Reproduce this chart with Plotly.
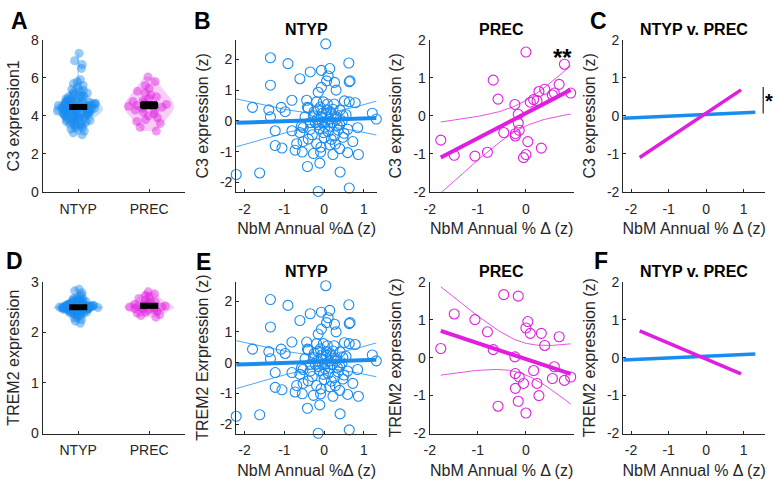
import numpy as np
import plotly.graph_objects as go

# ---------------- data ----------------
groups = ["NTYP", "PREC"]

ntyp_c3_raw = [3.0, 3.1, 3.2, 3.3, 3.35, 3.4, 3.45, 3.5, 3.5, 3.55, 3.6, 3.6, 3.65, 3.7, 3.7, 3.75, 3.8, 3.8,
               3.85, 3.9, 3.9, 3.95, 4.0, 4.0, 4.0, 4.05, 4.1, 4.1, 4.1, 4.15, 4.15, 4.2, 4.2, 4.2, 4.25, 4.25,
               4.3, 4.3, 4.3, 4.3, 4.35, 4.35, 4.4, 4.4, 4.4, 4.4, 4.45, 4.45, 4.5, 4.5, 4.5, 4.5, 4.55, 4.55,
               4.6, 4.6, 4.6, 4.6, 4.65, 4.65, 4.7, 4.7, 4.7, 4.75, 4.75, 4.8, 4.8, 4.85, 4.9, 4.9, 4.95, 5.0,
               5.0, 5.05, 5.1, 5.1, 5.15, 5.2, 5.25, 5.3, 5.35, 5.4, 5.5, 5.6, 5.7, 5.8, 5.9, 6.5, 6.7, 6.9, 7.3,
               3.85, 4.05, 4.15, 4.35, 4.45, 4.55, 4.25, 3.95, 4.65, 4.75, 3.75, 4.0, 4.2, 4.5, 4.3, 4.4]
prec_c3_raw = [3.2, 3.4, 3.6, 3.7, 3.8, 3.9, 4.0, 4.1, 4.2, 4.3, 4.3, 4.4, 4.45, 4.5, 4.55, 4.6, 4.7, 4.75,
               4.8, 4.9, 5.0, 5.1, 5.2, 5.3, 5.45, 5.6, 5.8, 6.05]
ntyp_trem2_raw = [2.18, 2.22, 2.25, 2.28, 2.3, 2.32, 2.33, 2.35, 2.36, 2.37, 2.38, 2.39, 2.4, 2.4, 2.41, 2.42,
                  2.42, 2.43, 2.43, 2.44, 2.44, 2.45, 2.45, 2.45, 2.46, 2.46, 2.46, 2.47, 2.47, 2.47, 2.47, 2.48,
                  2.48, 2.48, 2.48, 2.49, 2.49, 2.49, 2.49, 2.5, 2.5, 2.5, 2.5, 2.5, 2.51, 2.51, 2.51, 2.51, 2.52,
                  2.52, 2.52, 2.53, 2.53, 2.53, 2.54, 2.54, 2.55, 2.55, 2.56, 2.56, 2.57, 2.57, 2.58, 2.59, 2.6,
                  2.61, 2.62, 2.63, 2.64, 2.65, 2.67, 2.69, 2.71, 2.74, 2.78, 2.82, 2.85,
                  2.44, 2.46, 2.48, 2.5, 2.52, 2.54, 2.47, 2.49, 2.51, 2.53, 2.45, 2.55, 2.43, 2.57, 2.41, 2.59,
                  2.39, 2.61, 2.37, 2.63, 2.35, 2.66, 2.5, 2.49, 2.48, 2.47, 2.46, 2.52, 2.53, 2.51]
prec_trem2_raw = [2.3, 2.33, 2.35, 2.38, 2.4, 2.42, 2.44, 2.45, 2.46, 2.47, 2.48, 2.49, 2.5, 2.5, 2.51, 2.52,
                  2.53, 2.55, 2.56, 2.58, 2.6, 2.62, 2.64, 2.67, 2.7, 2.73, 2.76, 2.8]

ntyp_x = [-2.21, -1.62, -1.35, -0.91, -0.61, -1.35, -1.80, -1.39, -1.35, -1.08, -0.98, -0.81, -1.23, -0.81,
          -1.23, -1.06, -0.69, -0.73, -0.53, -0.55, -0.61, -0.53, -0.57, -0.42, -0.42, -0.44, -0.35,
          -0.21, 0.04, 0.62, 0.65, 0.63, -0.07, 0.14, 0.10, 0.06, 0.26, 0.30, -0.07, -0.15, 0.51, 0.63, 0.78,
          -0.40, -0.19, -0.02, -0.15, 0.06, 0.22, 0.18, -0.27, -0.07, 0.30, 0.47, 1.21, 1.31, 0.02, -0.15,
          0.14, 0.39, 0.59, 0.84, -0.35, -0.02, 0.26, 0.47, 0.72, -0.40, -0.19, 0.14, 0.39, 0.59, 0.86,
          -0.27, -0.09, 0.22, -0.11, 0.40, -0.15, 0.63, -0.48,
          -0.25, -0.10, 0.05, 0.12, -0.05, 0.20, 0.30, 0.35, 0.10, -0.12, -0.22, 0.00, 0.18, 0.28, -0.30,
          0.45, 0.40, -0.05, 0.08, 0.50, 0.25, -0.18, 0.02, 0.15, -0.08, 0.33, 0.55, -0.35]
ntyp_c3_z = [-1.74, -1.69, 2.05, 1.86, 1.37, 1.16, 0.44, 0.36, 0.13, 0.44, 0.30, 0.67, -0.32, -0.32, -0.80,
             -0.88, -0.74, -0.95, -0.67, -1.01, -0.38, -0.22, -0.17, -1.48, 0.44, 0.67, 1.59,
             2.64, 2.50, 1.88, 1.30, 1.27, 1.64, 1.70, 1.46, 1.30, 1.25, 1.00, 1.09, 0.93, 0.65, 0.62, 0.59,
             0.41, 0.62, 0.62, 0.36, 0.36, 0.38, 0.20, 0.17, 0.13, 0.13, 0.17, 0.25, 0.06, -0.04, -0.12,
             -0.17, -0.12, -0.27, -0.22, -0.27, -0.38, -0.48, -0.53, -0.67, -0.59, -0.74, -0.78, -0.90, -1.03,
             -1.09, -1.06, -1.01, -1.09, -1.37, -1.66, -2.29, -2.18, 0.13,
             0.30, 0.45, 0.25, 0.05, -0.05, -0.05, 0.05, -0.30, -0.35, -0.25, -0.05, -0.55, -0.60, -0.75,
             -0.45, 0.00, 0.35, 0.25, 0.55, -0.40, 0.55, 0.05, -0.20, 0.30, -0.85, -0.15, 0.20, -0.05]
# panel E (NTYP) shows the same scatter as panel B
ntyp_trem2_z = list(ntyp_c3_z)

prec_x = [-1.77, -1.49, -1.06, -0.80, -0.68, -0.58, -0.46, -0.23, -0.22, -0.14, -0.22, -0.16, -0.16, -0.05,
          0.00, 0.04, 0.00, 0.09, 0.16, 0.23, 0.27, 0.32, 0.39, 0.59, 0.55, 0.69, 0.80, 0.93]
prec_c3_z = [-0.64, -1.04, -1.06, -0.96, 0.94, 0.44, -0.44, 0.30, -0.53, -0.38, -0.47, 0.04, -0.19, -1.10,
             -1.02, -0.68, 1.68, 0.36, 0.43, 0.40, 0.64, -0.85, 0.70, 0.60, 0.55, 0.83, 1.36, 0.60]
prec_trem2_z = [0.24, 1.15, 1.00, 0.68, 0.21, -1.28, 1.66, 0.02, -0.42, -0.51, -0.81, -1.15, 1.62, -0.68,
                -1.46, 0.95, 0.78, 0.64, -0.34, -0.68, -1.00, 0.64, 0.32, -0.24, -0.55, 0.55, -0.60, -0.51]

# regression lines: (slope, intercept)
fit_ntyp_c3 = (0.044, 0.035)
fit_ntyp_trem2 = (0.044, 0.035)
fit_prec_c3 = (0.66, 0.07)
fit_prec_trem2 = (-0.42, -0.04)

# significance bar in panel C: y extent (z units)
sig_bar_c = [0.06, 0.76]

# ---------------- style ----------------
BLUE = "#1a8cf0"
MAG = "#e01ee0"
BLUE_FILL = "rgba(26,140,240,0.28)"
MAG_FILL = "rgba(224,30,224,0.22)"
INK = "#262626"
FONT = "Liberation Sans, Arial, sans-serif"
W, H = 775, 487


def dx(l, r):
    return [l / W, r / W]


def dy(t, b):
    return [1 - b / H, 1 - t / H]


TOP = dy(33, 190)
BOT = dy(283, 440)
XA = dx(37, 180)
XB = dx(232, 374)
XP = dx(427, 572)
XC = dx(622, 765)

fig = go.Figure()
layout = dict(width=W, height=H, margin=dict(l=0, r=0, t=0, b=0), plot_bgcolor="white",
              paper_bgcolor="white", showlegend=False, font=dict(family=FONT, color=INK))


def axis(idx, domx, domy, xr, yr, xt, yt, xtitle, ytitle, xtext=None, ytext=None):
    sx = "" if idx == 1 else str(idx)
    common = dict(showline=True, linecolor=INK, linewidth=1, ticks="inside", ticklen=3, tickcolor=INK,
                  showgrid=False, zeroline=False, tickfont=dict(size=14, color=INK, family=FONT))
    layout["xaxis" + sx] = dict(common, domain=domx, range=xr, tickvals=xt,
                                ticktext=xtext if xtext else [str(v) for v in xt],
                                anchor="y" + sx, ticklabelstandoff=4,
                                title=dict(text=xtitle, font=dict(size=16, color=INK), standoff=7))
    layout["yaxis" + sx] = dict(common, domain=domy, range=yr, tickvals=yt,
                                ticktext=ytext if ytext else [str(v) for v in yt],
                                anchor="x" + sx,
                                title=dict(text=ytitle, font=dict(size=16, color=INK), standoff=7))


xl1 = "NbM Annual %\u0394 (z)"
xl2 = "NbM Annual % \u0394 (z)"
axis(1, XA, TOP, [0.5, 2.5], [0, 8], [1, 2], [0, 2, 4, 6, 8], None, "C3 expression1", xtext=groups)
axis(2, XB, TOP, [-2.21, 1.33], [-2.3, 2.63], [-2, -1, 0, 1], [-2, -1, 0, 1, 2], xl1, "C3 expression (z)")
axis(3, XP, TOP, [-2, 0.99], [-2, 2], [-2, -1, 0], [-2, -1, 0, 1, 2], xl2, "C3 expression (z)")
axis(4, XC, TOP, [-2.21, 1.57], [-2, 2], [-2, -1, 0, 1], [-2, -1, 0, 1, 2], xl2, "C3 expression (z)")
axis(5, XA, BOT, [0.5, 2.5], [0, 3], [1, 2], [0, 1, 2, 3], None, "TREM2 expression", xtext=groups)
axis(6, XB, BOT, [-2.21, 1.33], [-2.3, 2.63], [-2, -1, 0, 1], [-2, -1, 0, 1, 2], xl1, "TREM2 Exrpression (z)")
axis(7, XP, BOT, [-2, 0.99], [-2, 2], [-2, -1, 0], [-2, -1, 0, 1, 2], xl2, "TREM2 expression (z)")
axis(8, XC, BOT, [-2.21, 1.57], [-2, 2], [-2, -1, 0, 1], [-2, -1, 0, 1, 2], xl2, "TREM2 expression (z)")


def violins(ax, ntyp_vals, prec_vals):
    sx = "" if ax == 1 else str(ax)
    for pos, vals, col, fill in [(1, ntyp_vals, BLUE, BLUE_FILL), (2, prec_vals, MAG, MAG_FILL)]:
        fig.add_trace(go.Violin(x0=pos, y=vals, xaxis="x" + sx, yaxis="y" + sx, fillcolor=fill,
                                line=dict(width=0, color="rgba(0,0,0,0)"), points="all", pointpos=0,
                                jitter=0.85, width=0.7, spanmode="hard", scalemode="width",
                                marker=dict(color=col, opacity=0.45, size=9, line=dict(width=0)),
                                box=dict(visible=False), meanline=dict(visible=False), hoverinfo="skip"))
        arr = np.asarray(vals, dtype=float)
        m = arr.mean()
        sem = arr.std(ddof=1) / np.sqrt(len(arr))
        fig.add_trace(go.Scatter(x=[pos], y=[m], xaxis="x" + sx, yaxis="y" + sx, mode="markers",
                                 marker=dict(symbol="line-ew", size=13, line=dict(width=6, color="black")),
                                 error_y=dict(type="data", array=[sem], width=8, thickness=3, color="black"),
                                 hoverinfo="skip"))


violins(1, ntyp_c3_raw, prec_c3_raw)
violins(5, ntyp_trem2_raw, prec_trem2_raw)

T_MULT_NTYP = 2.48   # simultaneous 95% band multipliers
T_MULT_PREC = 2.60


def fit_curves(x, y, fit, mult):
    x = np.asarray(x, float)
    y = np.asarray(y, float)
    b, a = fit
    xg = np.linspace(x.min(), x.max(), 80)
    yhat = a + b * xg
    n = len(x)
    resid = y - (a + b * x)
    s = np.sqrt((resid ** 2).sum() / (n - 2))
    sxx = ((x - x.mean()) ** 2).sum()
    hw = mult * s * np.sqrt(1 / n + (xg - x.mean()) ** 2 / sxx)
    return xg, yhat, yhat - hw, yhat + hw


def scatter_panel(ax, x, y, fit, col, mult):
    sx = str(ax)
    fig.add_trace(go.Scatter(x=x, y=y, xaxis="x" + sx, yaxis="y" + sx, mode="markers", cliponaxis=False,
                             marker=dict(symbol="circle-open", size=10, color=col, line=dict(width=1.1)),
                             hoverinfo="skip"))
    xg, yh, lo, hi = fit_curves(x, y, fit, mult)
    for yy in (lo, hi):
        fig.add_trace(go.Scatter(x=xg, y=yy, xaxis="x" + sx, yaxis="y" + sx, mode="lines",
                                 line=dict(color=col, width=0.9), opacity=0.85, hoverinfo="skip"))
    fig.add_trace(go.Scatter(x=xg, y=yh, xaxis="x" + sx, yaxis="y" + sx, mode="lines",
                             line=dict(color=col, width=4), hoverinfo="skip"))


scatter_panel(2, ntyp_x, ntyp_c3_z, fit_ntyp_c3, BLUE, T_MULT_NTYP)
scatter_panel(3, prec_x, prec_c3_z, fit_prec_c3, MAG, T_MULT_PREC)
scatter_panel(6, ntyp_x, ntyp_trem2_z, fit_ntyp_trem2, BLUE, T_MULT_NTYP)
scatter_panel(7, prec_x, prec_trem2_z, fit_prec_trem2, MAG, T_MULT_PREC)


def compare_panel(ax, fits):
    sx = str(ax)
    for x, fit, col in fits:
        xg, yh, _, _ = fit_curves(x, x, fit, 1.0)
        fig.add_trace(go.Scatter(x=[xg[0], xg[-1]], y=[yh[0], yh[-1]], xaxis="x" + sx, yaxis="y" + sx,
                                 mode="lines", line=dict(color=col, width=3.5), hoverinfo="skip"))


compare_panel(4, [(ntyp_x, fit_ntyp_c3, BLUE), (prec_x, fit_prec_c3, MAG)])
compare_panel(8, [(ntyp_x, fit_ntyp_trem2, BLUE), (prec_x, fit_prec_trem2, MAG)])

# significance bar in panel C
fig.add_trace(go.Scatter(x=[1.52, 1.52], y=sig_bar_c, xaxis="x4", yaxis="y4", mode="lines",
                         cliponaxis=False, line=dict(color=INK, width=1.2), hoverinfo="skip"))

ann = []


def txt(x, y, s, size, bold=True, xa="center", ya="middle"):
    ann.append(dict(x=x / W, y=1 - y / H, xref="paper", yref="paper", text=f"<b>{s}</b>" if bold else s,
                    showarrow=False, xanchor=xa, yanchor=ya, borderpad=0,
                    font=dict(size=size, color="black", family=FONT)))


for letter, lx, ly in [("A", 14, 13), ("B", 198, 13), ("C", 597, 13), ("D", 9, 262), ("E", 199, 263),
                       ("F", 600, 262)]:
    txt(lx, ly, letter, 23)
for title, tx, ty in [("NTYP", 303, 22), ("PREC", 499, 22), ("NTYP v. PREC", 693, 22),
                      ("NTYP", 303, 272), ("PREC", 499, 272), ("NTYP v. PREC", 693, 272)]:
    txt(tx, ty, title, 16)
txt(561, 51, "**", 24)
txt(769, 96, "*", 20)
layout["annotations"] = ann

fig.update_layout(**layout)
fig.write_html("out.html", config={"displayModeBar": False},
               post_script="document.body.style.margin='0px';")
